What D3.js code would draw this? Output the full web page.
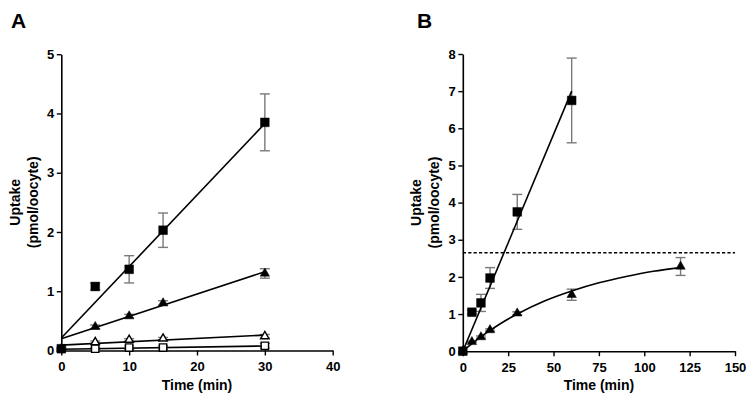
<!DOCTYPE html>
<html>
<head>
<meta charset="utf-8">
<script src="https://cdn.jsdelivr.net/npm/d3@7"></script>
<style>
  html, body { margin: 0; padding: 0; background: #fff; }
  svg { display: block; }
  text { font-family: "Liberation Sans", Arial, sans-serif; font-weight: bold; fill: #000; }
</style>
</head>
<body>
<svg id="chart" width="753" height="400"></svg>
<script>
// ---------- Panel A data ----------
const aTime = [0, 5, 10, 15, 30];
const aFilledSq = [0.03, 1.08, 1.37, 2.03, 3.85];
const aFilledSqErr = [0.02, 0.06, 0.23, 0.29, 0.48];
const aFilledTri = [0.03, 0.40, 0.58, 0.80, 1.30];
const aFilledTriErr = [0.01, 0.03, 0.03, 0.04, 0.08];
const aOpenTri = [0.03, 0.14, 0.18, 0.20, 0.24];
const aOpenTriErr = [0.01, 0.02, 0.02, 0.02, 0.03];
const aOpenSq = [0.03, 0.03, 0.05, 0.05, 0.08];
const aOpenSqErr = [0.01, 0.02, 0.03, 0.03, 0.04];
// fitted lines (time, uptake) endpoints
const aFitTime = [0, 30];
const aFitFilledSq = [0.21, 3.83];
const aFitFilledTri = [0.20, 1.33];
const aFitOpenTri = [0.09, 0.26];
const aFitOpenSq = [0.02, 0.076];
const aXTicks = [0, 10, 20, 30, 40];
const aYTicks = [0, 1, 2, 3, 4, 5];

// ---------- Panel B data ----------
const bSqTime = [0, 5, 10, 15, 30, 60];
const bSq = [0, 1.05, 1.30, 1.97, 3.75, 6.75];
const bSqErr = [0, 0.05, 0.23, 0.28, 0.47, 1.14];
const bTriTime = [0, 5, 10, 15, 30, 60, 120];
const bTri = [0, 0.25, 0.38, 0.57, 1.02, 1.52, 2.28];
const bTriErr = [0, 0.02, 0.03, 0.03, 0.04, 0.15, 0.24];
const bFitSqTime = [0, 60];
const bFitSq = [0, 7.0];
const bFitTriTime = [0, 10, 20, 30, 45, 60, 75, 90, 105, 120];
const bFitTri = [0, 0.39, 0.72, 1.00, 1.35, 1.62, 1.84, 2.01, 2.15, 2.25];
const bPlateau = 2.65;
const bXTicks = [0, 25, 50, 75, 100, 125, 150];
const bYTicks = [0, 1, 2, 3, 4, 5, 6, 7, 8];

const svg = d3.select("#chart");
const ERR_COLOR = "#7a7a7a";

function panel(cfg) {
  const g = svg.append("g");
  const x = d3.scaleLinear().domain(cfg.xDomain).range(cfg.xRange);
  const y = d3.scaleLinear().domain(cfg.yDomain).range(cfg.yRange);

  // axes
  const xAxis = d3.axisBottom(x).tickValues(cfg.xTicks).tickFormat(d3.format("d"))
    .tickSize(5).tickSizeOuter(0).tickPadding(6.5);
  const yAxis = d3.axisLeft(y).tickValues(cfg.yTicks).tickFormat(d3.format("d"))
    .tickSize(4.5).tickSizeOuter(0).tickPadding(2.5);
  const gx = g.append("g").attr("transform", `translate(0,${cfg.yRange[0]})`).call(xAxis);
  const gy = g.append("g").attr("transform", `translate(${cfg.xRange[0]},0)`).call(yAxis);
  [gx, gy].forEach(a => {
    a.attr("font-family", null).attr("font-size", null);
    a.select(".domain").attr("stroke", "#000").attr("stroke-width", 1.6);
    a.selectAll(".tick line").attr("stroke", "#000").attr("stroke-width", 1.4);
    a.selectAll(".tick text").style("font-size", "13px").style("font-weight", "bold")
      .style("font-family", '"Liberation Sans", Arial, sans-serif').attr("fill", "#000");
  });

  // titles
  g.append("text").attr("x", cfg.labelPos[0]).attr("y", cfg.labelPos[1])
    .style("font-size", "21px").text(cfg.label);
  const xc = (cfg.xRange[0] + cfg.xRange[1]) / 2;
  g.append("text").attr("x", xc).attr("y", 390).attr("text-anchor", "middle")
    .style("font-size", "14px").text("Time (min)");
  const yc = (cfg.yRange[0] + cfg.yRange[1]) / 2;
  g.append("text").attr("transform", `translate(${cfg.yTitleX[0]},${yc}) rotate(-90)`)
    .attr("text-anchor", "middle").style("font-size", "14px").text("Uptake");
  g.append("text").attr("transform", `translate(${cfg.yTitleX[1]},${yc}) rotate(-90)`)
    .attr("text-anchor", "middle").style("font-size", "14px").text("(pmol/oocyte)");

  const plot = g.append("g");
  // extra reference lines
  (cfg.hlines || []).forEach(h => {
    plot.append("line").attr("x1", x(cfg.xDomain[0])).attr("x2", x(cfg.xDomain[1]))
      .attr("y1", y(h)).attr("y2", y(h))
      .attr("stroke", "#000").attr("stroke-width", 1.6).attr("stroke-dasharray", "3.2,2.2");
  });

  // error bars
  cfg.series.forEach(s => {
    const pts = s.t.map((t, i) => ({ t, v: s.v[i], e: s.e[i] })).filter(d => d.e > 0);
    const eb = plot.append("g").attr("stroke", ERR_COLOR).attr("stroke-width", 1.4);
    pts.forEach(d => {
      eb.append("line").attr("x1", x(d.t)).attr("x2", x(d.t)).attr("y1", y(d.v - d.e)).attr("y2", y(d.v + d.e));
      [d.v - d.e, d.v + d.e].forEach(val => {
        eb.append("line").attr("x1", x(d.t) - 5).attr("x2", x(d.t) + 5).attr("y1", y(val)).attr("y2", y(val));
      });
    });
  });

  // fit lines
  const line = d3.line().x(d => x(d[0])).y(d => y(d[1]));
  cfg.fits.forEach(f => {
    plot.append("path").datum(f.t.map((t, i) => [t, f.v[i]]))
      .attr("d", line.curve(f.curve || d3.curveLinear))
      .attr("fill", "none").attr("stroke", "#000").attr("stroke-width", 1.6);
  });

  // markers
  cfg.series.forEach(s => {
    const type = s.shape === "square" ? d3.symbolSquare : d3.symbolTriangle;
    const size = s.shape === "square" ? (s.filled ? 76 : 54) : (s.filled ? 38 : 30);
    const sym = d3.symbol().type(type).size(size);
    plot.append("g").selectAll("path").data(s.t.map((t, i) => [t, s.v[i]])).join("path")
      .attr("d", sym)
      .attr("transform", d => `translate(${x(d[0])},${y(d[1])})`)
      .attr("fill", s.filled ? "#000" : "#fff")
      .attr("stroke", "#000").attr("stroke-width", s.filled ? 0.5 : 1.4);
  });
}

panel({
  label: "A", labelPos: [11, 28],
  xDomain: [0, 40], xRange: [61.3, 332.7],
  yDomain: [0, 5], yRange: [350.5, 54.2],
  xTicks: aXTicks, yTicks: aYTicks,
  yTitleX: [19.5, 37.5],
  fits: [
    { t: aFitTime, v: aFitOpenSq },
    { t: aFitTime, v: aFitOpenTri },
    { t: aFitTime, v: aFitFilledTri },
    { t: aFitTime, v: aFitFilledSq }
  ],
  series: [
    { t: aTime.slice(1), v: aOpenSq.slice(1), e: aOpenSqErr.slice(1), shape: "square", filled: false },
    { t: aTime.slice(1), v: aOpenTri.slice(1), e: aOpenTriErr.slice(1), shape: "triangle", filled: false },
    { t: aTime, v: aFilledTri, e: aFilledTriErr, shape: "triangle", filled: true },
    { t: aTime, v: aFilledSq, e: aFilledSqErr, shape: "square", filled: true }
  ]
});

panel({
  label: "B", labelPos: [417, 28],
  xDomain: [0, 150], xRange: [462.8, 735],
  yDomain: [0, 8], yRange: [351.2, 54],
  xTicks: bXTicks, yTicks: bYTicks,
  yTitleX: [421, 439],
  hlines: [bPlateau],
  fits: [
    { t: bFitSqTime, v: bFitSq },
    { t: bFitTriTime, v: bFitTri, curve: d3.curveMonotoneX }
  ],
  series: [
    { t: bTriTime, v: bTri, e: bTriErr, shape: "triangle", filled: true },
    { t: bSqTime, v: bSq, e: bSqErr, shape: "square", filled: true }
  ]
});
</script>
</body>
</html>
